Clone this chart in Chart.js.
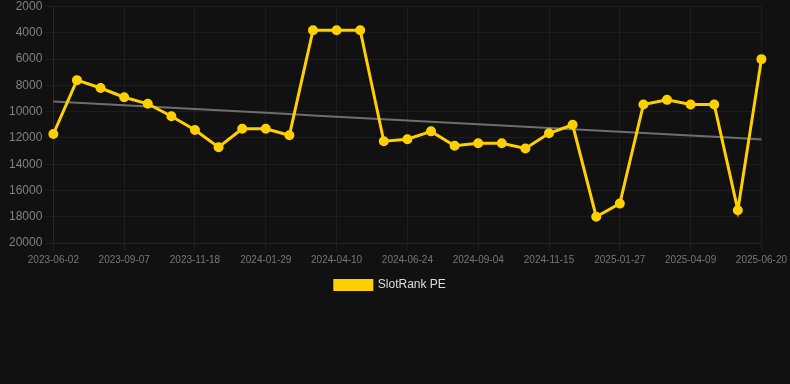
<!DOCTYPE html>
<html>
<head>
<meta charset="utf-8">
<script src="https://cdn.jsdelivr.net/npm/chart.js@4"></script>
<style>
  html, body { margin: 0; padding: 0; background: #111111; }
  #wrap { width: 790px; height: 301px; position: relative; }
</style>
</head>
<body>
<div id="wrap"><canvas id="rank-chart"></canvas></div>
<script>
const dates = [
  '2023-06-02', '2023-07-05', '2023-08-06', '2023-09-07', '2023-10-01', '2023-10-25',
  '2023-11-18', '2023-12-12', '2024-01-05', '2024-01-29', '2024-02-22', '2024-03-17',
  '2024-04-10', '2024-05-05', '2024-05-30', '2024-06-24', '2024-07-18', '2024-08-11',
  '2024-09-04', '2024-09-28', '2024-10-22', '2024-11-15', '2024-12-09', '2025-01-03',
  '2025-01-27', '2025-02-20', '2025-03-16', '2025-04-09', '2025-05-03', '2025-05-27',
  '2025-06-20'
];
const rankPE = [
  11700, 7600, 8200, 8900, 9400, 10350,
  11400, 12700, 11300, 11300, 11800, 3800,
  3800, 3800, 12250, 12100, 11500, 12600,
  12400, 12400, 12800, 11650, 11000, 18000,
  17000, 9450, 9100, 9450, 9450, 17500,
  6000
];
const yTicks = [2000, 4000, 6000, 8000, 10000, 12000, 14000, 16000, 18000, 20000];

// linear trend over the ranks
const n = rankPE.length;
const mx = (n - 1) / 2;
const my = rankPE.reduce((a, b) => a + b, 0) / n;
let sxy = 0, sxx = 0;
rankPE.forEach((v, i) => { sxy += (i - mx) * (v - my); sxx += (i - mx) * (i - mx); });
const slope = sxy / sxx;
const trend = rankPE.map((v, i) => my + slope * (i - mx));

const ctx = document.getElementById('rank-chart').getContext('2d');
new Chart(ctx, {
  type: 'line',
  data: {
    labels: dates,
    datasets: [
      {
        label: 'SlotRank PE',
        data: rankPE,
        borderColor: '#ffd000',
        backgroundColor: '#ffd000',
        borderWidth: 3,
        pointRadius: 4,
        pointBorderWidth: 2,
        pointHoverRadius: 4,
        tension: 0,
        order: 1
      },
      {
        label: 'trend',
        data: trend,
        borderColor: '#6e6e6e',
        borderWidth: 2,
        pointRadius: 0,
        tension: 0,
        order: 2
      }
    ]
  },
  options: {
    responsive: true,
    maintainAspectRatio: false,
    animation: false,
    layout: { padding: { left: 6, right: 2, top: 0, bottom: 0 } },
    plugins: {
      legend: {
        display: true,
        position: 'bottom',
        labels: {
          color: '#dddddd',
          font: { family: 'Liberation Sans, Arial, sans-serif', size: 12 },
          boxWidth: 37,
          boxHeight: 9,
          filter: item => item.text !== 'trend',
          generateLabels: chart => Chart.defaults.plugins.legend.labels.generateLabels(chart)
            .map(l => Object.assign(l, { text: l.text === 'trend' ? l.text : l.text + '    ' }))
        }
      },
      tooltip: { enabled: false }
    },
    scales: {
      x: {
        grid: { color: 'rgba(255,255,255,0.05)' },
        border: { color: 'rgba(255,255,255,0.05)' },
        ticks: {
          color: '#777777',
          font: { family: 'Liberation Sans, Arial, sans-serif', size: 10 },
          maxRotation: 0,
          autoSkip: true,
          callback: function (val, idx) { return idx % 3 === 0 ? this.getLabelForValue(val) : null; }
        }
      },
      y: {
        reverse: true,
        min: 2000,
        max: 20000,
        afterBuildTicks: axis => { axis.ticks = yTicks.map(v => ({ value: v })); },
        grid: { color: 'rgba(255,255,255,0.05)' },
        border: { color: 'rgba(255,255,255,0.05)' },
        ticks: {
          color: '#808080',
          font: { family: 'Liberation Sans, Arial, sans-serif', size: 12, lineHeight: 0.6 },
          callback: v => String(v)
        }
      }
    }
  }
});
</script>
</body>
</html>
